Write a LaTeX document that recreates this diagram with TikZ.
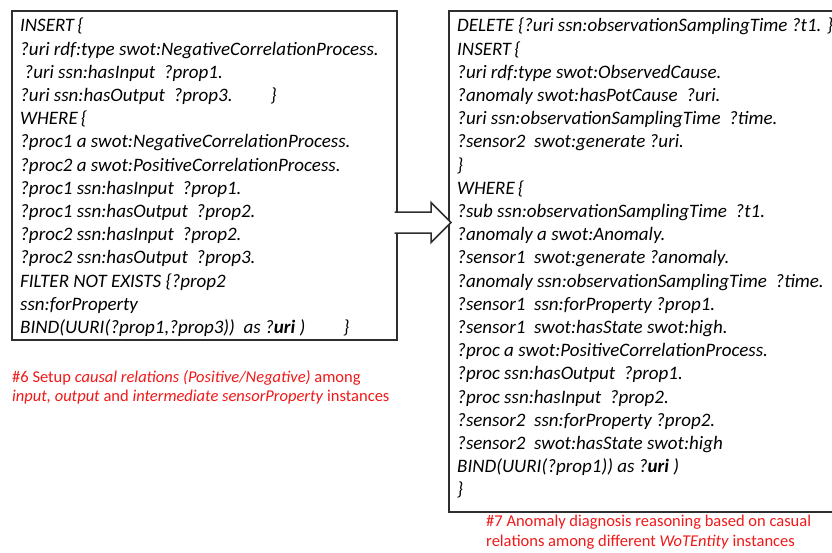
\documentclass[tikz,border=0pt]{standalone}
\usepackage{fontspec}
\setmainfont{Carlito}
\usetikzlibrary{positioning,calc}
\definecolor{capred}{HTML}{F01818}
\definecolor{boxink}{HTML}{2E2E2E}
\tikzset{
  codebox/.style={draw=boxink, line width=1.6pt, inner sep=0pt, anchor=north west},
  code/.style={anchor=north west, inner sep=0pt, align=left, font=\fontsize{19}{23.2}\selectfont\itshape},
  caption/.style={anchor=north west, inner sep=0pt, align=left, text=capred, font=\fontsize{16.5}{19.5}\selectfont},
  blockarr/.style={draw=boxink, line width=1.5pt, fill=white, line join=miter},
}

\begin{document}
\begin{tikzpicture}[x=1pt, y=-1pt]
  \useasboundingbox (0,0) rectangle (832,552);
  % the two query boxes
  \node[codebox, minimum width=385pt, minimum height=329pt] (lbox) at (11,10) {};
  \node[codebox, minimum width=400pt, minimum height=501pt] (rbox) at (448,10) {};
  % block arrow from rule 6 to rule 7
  \coordinate (atail) at (lbox.east |- 0,222.5);
  \coordinate (ahead) at (rbox.west |- 0,222.5);
  \draw[blockarr] ($(atail)+(-3,-10.5)$) -- ($(ahead)+(-17,-10.5)$) -- ($(ahead)+(-17,-20)$)
    -- ($(ahead)+(3,0)$) -- ($(ahead)+(-17,20)$) -- ($(ahead)+(-17,10.5)$) -- ($(atail)+(-3,10.5)$);
  % query texts
  \node[code] (lcode) at (20,18) {INSERT\,\{\\
?uri rdf:type swot:NegativeCorrelationProcess.\\
\ ?uri ssn:hasInput\ \ ?prop1.\\
?uri ssn:hasOutput\ \ ?prop3.\hspace{2em}\}\\
WHERE\,\{\\
?proc1 a swot:NegativeCorrelationProcess.\\
?proc2 a swot:PositiveCorrelationProcess.\\
?proc1 ssn:hasInput\ \ ?prop1.\\
?proc1 ssn:hasOutput\ \ ?prop2.\\
?proc2 ssn:hasInput\ \ ?prop2.\\
?proc2 ssn:hasOutput\ \ ?prop3.\\
FILTER NOT EXISTS \{?prop2\\
ssn:forProperty\\
BIND(UURI(?prop1,?prop3))\ \ as ?\textbf{uri}\ )\hspace{2em}\}};
  \node[code] (rcode) at (457,18) {DELETE \{?uri ssn:observationSamplingTime ?t1. \}\\
INSERT\,\{\\
?uri rdf:type swot:ObservedCause.\\
?anomaly swot:hasPotCause\ \ ?uri.\\
?uri ssn:observationSamplingTime\ \ ?time.\\
?sensor2\ \ swot:generate ?uri.\\
\}\\
WHERE\,\{\\
?sub ssn:observationSamplingTime\ \ ?t1.\\
?anomaly a swot:Anomaly.\\
?sensor1\ \ swot:generate ?anomaly.\\
?anomaly ssn:observationSamplingTime\ \ ?time.\\
?sensor1\ \ ssn:forProperty ?prop1.\\
?sensor1\ \ swot:hasState swot:high.\\
?proc a swot:PositiveCorrelationProcess.\\
?proc ssn:hasOutput\ \ ?prop1.\\
?proc ssn:hasInput\ \ ?prop2.\\
?sensor2\ \ ssn:forProperty ?prop2.\\
?sensor2\ \ swot:hasState swot:high\\
BIND(UURI(?prop1)) as ?\textbf{uri} )\\
\}};
  % captions
  \node[caption] (lcap) at (12,370) {\#6 Setup \textit{causal relations (Positive/Negative)} among\\
\textit{input, output} and \textit{intermediate sensorProperty} instances};
  \node[caption] (rcap) at (486,515) {\#7 Anomaly diagnosis reasoning based on casual\\
relations among different \textit{WoTEntity} instances};
\end{tikzpicture}
\end{document}
